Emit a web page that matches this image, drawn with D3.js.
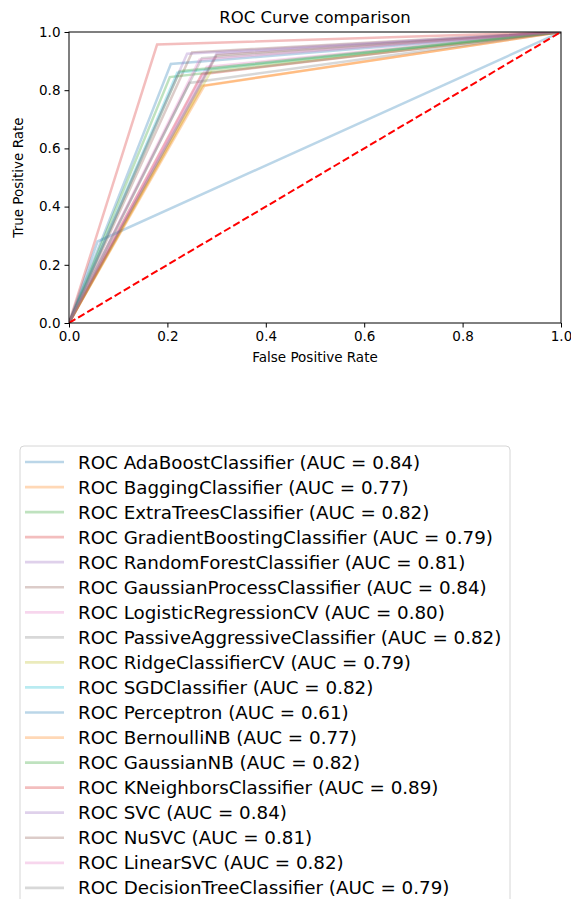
<!DOCTYPE html>
<html>
<head>
<meta charset="utf-8">
<script src="https://cdn.jsdelivr.net/npm/d3@7"></script>
<style>
  body { margin: 0; background: #fff; }
  svg { font-family: "DejaVu Sans", sans-serif; }
</style>
</head>
<body>
<script>
// classifiers, their AUC and the single operating point
var models = ["AdaBoostClassifier", "BaggingClassifier", "ExtraTreesClassifier",
  "GradientBoostingClassifier", "RandomForestClassifier", "GaussianProcessClassifier",
  "LogisticRegressionCV", "PassiveAggressiveClassifier", "RidgeClassifierCV",
  "SGDClassifier", "Perceptron", "BernoulliNB", "GaussianNB", "KNeighborsClassifier",
  "SVC", "NuSVC", "LinearSVC", "DecisionTreeClassifier"];
var aucs = [0.84, 0.77, 0.82, 0.79, 0.81, 0.84, 0.80, 0.82, 0.79,
  0.82, 0.61, 0.77, 0.82, 0.89, 0.84, 0.81, 0.82, 0.79];
var fprs = [0.207, 0.270, 0.205, 0.270, 0.300, 0.250, 0.280, 0.270, 0.290,
  0.220, 0.058, 0.275, 0.225, 0.179, 0.240, 0.300, 0.265, 0.245];
var tprs = [0.890, 0.815, 0.845, 0.855, 0.925, 0.930, 0.880, 0.910, 0.870,
  0.860, 0.280, 0.815, 0.865, 0.957, 0.925, 0.920, 0.905, 0.825];
var xTicks = [0, 0.2, 0.4, 0.6, 0.8, 1.0];
var yTicks = [0, 0.2, 0.4, 0.6, 0.8, 1.0];

var W = 571, H = 899;
var padL = 69, padT = 32, pw = 492, ph = 291;

var svg = d3.select("body").append("svg")
  .attr("width", W).attr("height", H);

var x = d3.scaleLinear().domain([0, 1]).range([padL, padL + pw]);
var y = d3.scaleLinear().domain([0, 1]).range([padT + ph, padT]);
var color = d3.scaleOrdinal(d3.schemeCategory10);

var line = d3.line()
  .x(function(d) { return x(d[0]); })
  .y(function(d) { return y(d[1]); });

//clip to the axes
svg.append("clipPath").attr("id", "clip")
  .append("rect").attr("x", padL).attr("y", padT).attr("width", pw).attr("height", ph);

var plot = svg.append("g").attr("clip-path", "url(#clip)");

models.forEach(function(m, i) {
  var pts = [[0, 0], [fprs[i], tprs[i]], [1, 1]];
  plot.append("path")
    .attr("d", line(pts))
    .attr("fill", "none")
    .attr("stroke", color(i % 10))
    .attr("stroke-opacity", 0.3)
    .attr("stroke-width", 2.5)
    .attr("stroke-linejoin", "miter");
});

//chance line
plot.append("path")
  .attr("d", line([[0, 0], [1, 1]]))
  .attr("fill", "none")
  .attr("stroke", "red")
  .attr("stroke-width", 2)
  .attr("stroke-dasharray", "7.4,3.2");

//axes
var xAxis = svg.append("g")
  .attr("transform", "translate(0," + (padT + ph) + ")")
  .call(d3.axisBottom(x).tickValues(xTicks).tickFormat(d3.format(".1f")).tickSize(4.5).tickPadding(4));
var yAxis = svg.append("g")
  .attr("transform", "translate(" + padL + ",0)")
  .call(d3.axisLeft(y).tickValues(yTicks).tickFormat(d3.format(".1f")).tickSize(4.5).tickPadding(4));

[xAxis, yAxis].forEach(function(a) {
  a.select(".domain").remove();
  a.selectAll("text").attr("font-size", 13.5).attr("font-family", "DejaVu Sans").attr("fill", "#000");
  a.selectAll("line").attr("stroke", "#000").attr("stroke-width", 1);
});

svg.append("rect")
  .attr("x", padL).attr("y", padT).attr("width", pw).attr("height", ph)
  .attr("fill", "none").attr("stroke", "#000").attr("stroke-width", 1);

svg.append("text")
  .attr("x", padL + pw / 2).attr("y", 23)
  .attr("text-anchor", "middle").attr("font-size", 16.5)
  .text("ROC Curve comparison");

svg.append("text")
  .attr("x", padL + pw / 2).attr("y", 362)
  .attr("text-anchor", "middle").attr("font-size", 13.5)
  .text("False Positive Rate");

svg.append("text")
  .attr("transform", "translate(23," + (padT + ph / 2) + ") rotate(-90)")
  .attr("text-anchor", "middle").attr("font-size", 13.5)
  .text("True Positive Rate");

//legend
var lgX = 20, lgY = 446, rowH = 25.05;
svg.append("rect")
  .attr("x", lgX).attr("y", lgY).attr("width", 490).attr("height", 480)
  .attr("rx", 4).attr("fill", "#fff").attr("stroke", "#d6d6d6").attr("stroke-width", 1);

var items = svg.selectAll("g.leg")
  .data(models)
  .enter()
  .append("g")
  .attr("class", "leg")
  .attr("transform", function(d, i) { return "translate(0," + (lgY + 16 + i * rowH) + ")"; });

items.append("line")
  .attr("x1", 25).attr("x2", 64).attr("y1", 0).attr("y2", 0)
  .attr("stroke", function(d, i) { return color(i % 10); })
  .attr("stroke-opacity", 0.3)
  .attr("stroke-width", 2.7);

items.append("text")
  .attr("x", 78).attr("y", 6.5)
  .attr("font-size", 18.3)
  .text(function(d, i) { return "ROC " + d + " (AUC = " + aucs[i].toFixed(2) + ")"; });
</script>
</body>
</html>
